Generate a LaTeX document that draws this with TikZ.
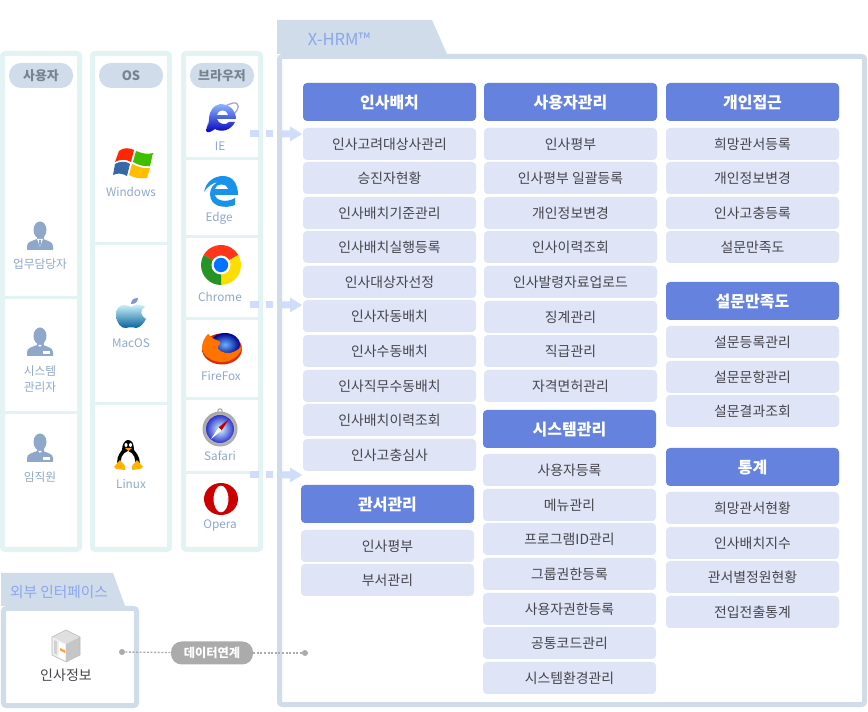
\documentclass[tikz,border=0pt]{standalone}
\usepackage{fontspec}
\setmainfont{Noto Sans CJK KR}
\usetikzlibrary{shapes.geometric}
\definecolor{panelc}{HTML}{E3F2F2}
\definecolor{framec}{HTML}{D0DCEA}
\definecolor{headc}{HTML}{6482DE}
\definecolor{rowc}{HTML}{DFE4F7}
\definecolor{rowt}{HTML}{45454B}
\definecolor{pillt}{HTML}{77838F}
\definecolor{labelc}{HTML}{8FA8CA}
\definecolor{tabt}{HTML}{8AA6EE}
\definecolor{arrowc}{HTML}{CFDDFA}
\definecolor{linkc}{HTML}{ABABAB}
\definecolor{edgec}{HTML}{1A92EA}
\tikzset{
  x=0.75pt,y=-0.75pt,
  headbox/.style={fill=headc,rounded corners=3pt,minimum width=129.75pt,minimum height=28.5pt,inner sep=0pt,text=white,text height=10pt,text depth=.8pt,font=\fontsize{12}{14}\selectfont\bfseries},
  rowbox/.style={fill=rowc,rounded corners=3pt,minimum width=129.75pt,minimum height=24pt,inner sep=0pt,text=rowt,text height=8.7pt,text depth=.7pt,font=\fontsize{10.4}{13}\selectfont},
  pillbox/.style={fill=framec,rounded corners=9pt,minimum width=48pt,minimum height=18.75pt,inner sep=0pt,text=pillt,font=\fontsize{9.7}{11}\selectfont\bfseries},
  iconlabel/.style={text=labelc,inner sep=0pt,align=center,font=\fontsize{8.8}{11.5}\selectfont},
  paneledge/.style={draw=panelc,line width=3.75pt,fill=white,rounded corners=2pt},
  divider/.style={fill=panelc},
  frameedge/.style={draw=framec,line width=3.75pt,fill=white,rounded corners=2pt},
  flowmark/.style={fill=arrowc},
}
\newcommand{\flowarrow}[2]{%
  \fill[flowmark] (250,#2-3.5) rectangle (259,#2+3.5);
  \fill[flowmark] (266,#2-3.5) rectangle (273,#2+3.5);
  \fill[flowmark] (281,#2-3.5) -- (290,#2-3.5) -- (290,#2-7.5) -- (302,#2) -- (290,#2+7.5) -- (290,#2+3.5) -- (281,#2+3.5) -- cycle;
  \coordinate (#1) at (302,#2);}
\newcommand{\person}[3]{%
  \begin{scope}[shift={(#1,#2)}]
    \fill[labelc] (-13,15) -- (-13,11) .. controls (-13,7) and (-8,6) .. (-3,4) -- (3,4) .. controls (8,6) and (13,7) .. (13,11) -- (13,15) -- cycle;
    \fill[labelc] (0,-5) ellipse (6.5 and 8.5);
    \fill[labelc] (-3.5,0) rectangle (3.5,5);
    #3
  \end{scope}}
\begin{document}
\begin{tikzpicture}
\useasboundingbox (0,0) rectangle (868,712);
\fill[white] (0,0) rectangle (868,712);
% left panels
\draw[paneledge] (2.5,53.5) rectangle (79.5,549.5);
\draw[paneledge] (92.5,53.5) rectangle (169.5,549.5);
\draw[paneledge] (183.5,53.5) rectangle (260.5,549.5);
\fill[divider] (5,296) rectangle (77,299);
\fill[divider] (5,411) rectangle (77,414);
\fill[divider] (95,242) rectangle (167,245);
\fill[divider] (95,402) rectangle (167,405);
\foreach \yy in {157,235,317,397,471}{\fill[divider] (186,\yy) rectangle (258,\yy+3);}
\node[pillbox] (puser) at (41,75.5) {사용자};
\node[pillbox] (pos) at (131,75.5) {OS};
\node[pillbox] (pbrowser) at (222,75.5) {브라우저};
% users
\person{40}{235}{\fill[white] (-3,4) -- (3,4) -- (1,9) -- (0,12) -- (-1,9) -- cycle;\fill[labelc] (-1,5) -- (1,5) -- (.8,9) -- (0,12) -- (-.8,9) -- cycle;}
\node[iconlabel] (l1) at (40,264) {업무담당자};
\person{40}{341}{\fill[white] (-2,4) -- (2,4) -- (0,6) -- cycle;\fill[white] (3,10) rectangle (10,13);}
\node[iconlabel] (l2) at (40,379) {시스템\\관리자};
\person{40}{447}{\fill[white] (-2,4) -- (2,4) -- (0,6) -- cycle;\fill[white] (3,10) rectangle (10,13);}
\node[iconlabel] (l3) at (40,477) {임직원};
% OS icons: windows
\fill[red!70!orange] (119,151) .. controls (124,147) and (129,148) .. (134,150) -- (131,162) .. controls (126,159) and (120,159) .. (115,162) -- cycle;
\fill[green!50!olive] (136,151) .. controls (141,153) and (148,155) .. (153,153) -- (150,166) .. controls (145,167) and (138,165) .. (133,162) -- cycle;
\fill[cyan!50!blue!80!black] (115,164) .. controls (120,161) and (126,161) .. (130,164) -- (127,176) .. controls (122,173) and (117,173) .. (113,175) -- cycle;
\fill[orange!50!yellow] (132,164) .. controls (138,167) and (145,169) .. (150,168) -- (147,178) .. controls (141,179) and (134,178) .. (129,175) -- cycle;
\node[iconlabel] (w) at (131,192) {Windows};
% apple
\shade[top color=blue!8!cyan!15,bottom color=blue!40!cyan!60!black] (131,307) .. controls (124,303) and (116,305) .. (116,315) .. controls (116,322) and (121,329) .. (126,328) .. controls (129,327) and (133,327) .. (136,328) .. controls (140,328) and (144,323) .. (146,319) .. controls (141,317) and (139,309) .. (145,307) .. controls (141,303) and (135,304) .. (131,307) -- cycle;
\fill[cyan!30!blue!50] (131,304) .. controls (131,300) and (134,298) .. (138,298) .. controls (138,302) and (135,304) .. (131,304) -- cycle;
\node[iconlabel] (m) at (131,343) {MacOS};
% tux
\fill[black] (122,450) .. controls (122,444) and (125,440) .. (128,440) .. controls (132,440) and (134,444) .. (134,450) .. controls (139,455) and (141,462) .. (139,466) -- (118,466) .. controls (116,460) and (118,455) .. (122,450) -- cycle;
\fill[white] (128,451) .. controls (134,453) and (137,460) .. (134,467) -- (122,467) .. controls (119,460) and (122,453) .. (128,451) -- cycle;
\fill[white] (126,445) ellipse (1.5 and 2) (130.5,445) ellipse (1.5 and 2);
\fill[orange!80!yellow] (125,448) -- (132,448) -- (128.5,451) -- cycle;
\fill[orange!60!yellow] (120,460) -- (114,467) -- (116,469) -- (125,470) -- (125,466) -- cycle;
\fill[orange!60!yellow] (137,460) -- (143,467) -- (140,469) -- (132,470) -- (132,466) -- cycle;
\node[iconlabel] (lx) at (131,484) {Linux};
% IE
\begin{scope}[shift={(222,118)}]
  \draw[blue!25!gray!55,line width=1pt] (-15,14) .. controls (-17,4) and (-2,-12) .. (11,-15) .. controls (18,-16) and (17,-9) .. (13,-5);
  \shade[top color=cyan!35!blue!45,bottom color=blue!75!black] (-2,-14) .. controls (8,-14) and (14,-7) .. (14,1) -- (-5,1) .. controls (-4,6) and (4,8) .. (7,4) -- (13,4) .. controls (9,12) and (0,15) .. (-7,11) .. controls (-10,13) and (-13,15) .. (-15,14) .. controls (-16,12) and (-15,8) .. (-13,5) .. controls (-14,-5) and (-9,-13) .. (-2,-14) -- cycle;
  \fill[white] (-5,-3) .. controls (-4,-9) and (5,-9) .. (6,-3) -- cycle;
\end{scope}
\node[iconlabel] (ie) at (220,146) {IE};
% Edge
\begin{scope}[shift={(221,191)}]
  \fill[edgec] (-17,1) .. controls (-15,-10) and (-6,-15) .. (2,-15) .. controls (12,-15) and (17,-7) .. (17,4) -- (-6,4) .. controls (-5,10) and (6,12) .. (14,7) -- (14,14) .. controls (4,18) and (-11,16) .. (-11,3) .. controls (-11,-3) and (-7,-7) .. (-3,-9) .. controls (-9,-8) and (-14,-4) .. (-17,1) -- cycle;
  \fill[white] (-6,-2) .. controls (-5,-8) and (6,-8) .. (7,-2) -- cycle;
\end{scope}
\node[iconlabel] (edge) at (219,218) {Edge};
% Chrome
\begin{scope}[shift={(221,265)}]
  \fill[red!75!orange!90] (0,0) -- (-17.3,-10) arc (-150:-30:20) -- cycle;
  \fill[yellow!80!orange] (0,0) -- (17.3,-10) arc (-30:90:20) -- cycle;
  \fill[green!50!black!85] (0,0) -- (0,20) arc (90:210:20) -- cycle;
  \fill[white] (0,0) circle (9.5);
  \fill[blue!55!cyan] (0,0) circle (7.2);
\end{scope}
\node[iconlabel] (chrome) at (220,297) {Chrome};
% Firefox
\begin{scope}[shift={(222,348)}]
  \shade[inner color=orange!90!yellow,outer color=red!70!orange!85!black] (0,1) ellipse (20 and 15.5);
  \shade[inner color=cyan!50!blue!60,outer color=blue!55!black] (3,-3.5) ellipse (15 and 11.5);
  \fill[orange!90!red] (-14,-14) .. controls (-10,-10) and (-8,-9) .. (-6,-8) .. controls (-2,-8) and (0,-4) .. (-4,-2) .. controls (-6,2) and (2,6) .. (8,5) .. controls (13,4) and (17,1) .. (20,-2) .. controls (20,6) and (10,14) .. (0,14) .. controls (-12,14) and (-20,6) .. (-20,0) .. controls (-20,-6) and (-17,-11) .. (-14,-14) -- cycle;
\end{scope}
\node[iconlabel] (ff) at (221,376) {FireFox};
% Safari
\begin{scope}[shift={(220,429)}]
  \draw[gray!70,line width=.8pt] (0,-18) circle (2.2);
  \shade[inner color=white,outer color=gray!70] (0,0) circle (17.5);
  \shade[inner color=cyan!20,outer color=blue!60!gray] (0,0) circle (14);
  \fill[red!75!black] (-1.5,-1.5) -- (9,-10) -- (1.5,1.5) -- cycle;
  \fill[white] (-1.5,-1.5) -- (-9,10) -- (1.5,1.5) -- cycle;
\end{scope}
\node[iconlabel] (sf) at (220,456) {Safari};
% Opera
\begin{scope}[shift={(221,499)}]
  \fill[red!80!black,even odd rule] (0,0) ellipse (17 and 16) (0,0) ellipse (7.5 and 13.5);
\end{scope}
\node[iconlabel] (op) at (220,525) {Opera};
% main frame
\fill[framec] (277,20) -- (432,20) -- (447,54) -- (277,54) -- cycle;
\draw[frameedge] (279.5,56.5) rectangle (864.5,704.5);
\node[text=tabt,inner sep=0pt,font=\fontsize{12.4}{14}\selectfont] (xhrm) at (339,39) {X-HRM™};
% arrows
\flowarrow{a1}{134}
\flowarrow{a2}{305}
\flowarrow{a3}{475}
% column A
\node[headbox] (hA) at (389.5,102) {인사배치};
\foreach \t/\yy [count=\i] in {인사고려대상사관리/144,승진자현황/178,인사배치기준관리/213,인사배치실행등록/247,인사대상자선정/282,인사자동배치/316,인사수동배치/351,인사직무수동배치/386,인사배치이력조회/420,인사고충심사/455}
  \node[rowbox] (ra\i) at (389.5,\yy) {\t};
\node[headbox] (hB) at (387.5,504) {관서관리};
\foreach \t/\yy [count=\i] in {인사평부/546,부서관리/580}
  \node[rowbox] (rb\i) at (387.5,\yy) {\t};
% column B
\node[headbox] (hC) at (570.5,102) {사용자관리};
\foreach \t/\yy [count=\i] in {인사평부/144,인사평부 일괄등록/178,개인정보변경/213,인사이력조회/247,인사발령자료업로드/282,징계관리/317,직급관리/351,자격면허관리/386}
  \node[rowbox] (rc\i) at (570.5,\yy) {\t};
\node[headbox] (hD) at (569.5,429) {시스템관리};
\foreach \t/\yy [count=\i] in {사용자등록/470,메뉴관리/505,프로그램ID관리/539,그룹권한등록/574,사용자권한등록/609,공통코드관리/643,시스템환경관리/678}
  \node[rowbox] (rd\i) at (569.5,\yy) {\t};
% column C
\node[headbox] (hE) at (752.5,102) {개인접근};
\foreach \t/\yy [count=\i] in {희망관서등록/144,개인정보변경/178,인사고충등록/213,설문만족도/247}
  \node[rowbox] (re\i) at (752.5,\yy) {\t};
\node[headbox] (hF) at (752.5,301) {설문만족도};
\foreach \t/\yy [count=\i] in {설문등록관리/342,설문문항관리/377,설문결과조회/411}
  \node[rowbox] (rf\i) at (752.5,\yy) {\t};
\node[headbox] (hG) at (752.5,467) {통계};
\foreach \t/\yy [count=\i] in {희망관서현황/508,인사배치지수/543,관서별정원현황/577,전입전출통계/612}
  \node[rowbox] (rg\i) at (752.5,\yy) {\t};
% external
\fill[framec] (1,573) -- (113,573) -- (125,606) -- (1,606) -- cycle;
\draw[frameedge] (3.5,608.5) rectangle (136.5,705.5);
\node[text=tabt,inner sep=0pt,font=\fontsize{11}{13}\selectfont] (ext) at (59,592) {외부 인터페이스};
% server icon
\begin{scope}[line join=round]
  \fill[gray!25] (66,630) -- (80,637) -- (66,644) -- (52,637) -- cycle;
  \fill[gray!12] (52,637) -- (66,644) -- (66,662) -- (52,655) -- cycle;
  \fill[gray!45] (66,644) -- (80,637) -- (80,655) -- (66,662) -- cycle;
  \fill[gray!35] (54,640) -- (57,641.5) -- (57,655) -- (54,653.5) -- cycle;
  \fill[white] (59,642) -- (65,645) -- (65,660) -- (59,657) -- cycle;
  \fill[orange!75] (60,648) -- (65,650.5) -- (65,653) -- (60,650.5) -- cycle;
  \draw[gray!55,line width=.5pt] (66,630) -- (80,637) -- (80,655) -- (66,662) -- (52,655) -- (52,637) -- cycle;
\end{scope}
\node[inner sep=0pt,text=rowt,font=\fontsize{10.5}{13}\selectfont] (hr) at (66,675) {인사정보};
% data link
\node[circle,fill=linkc,minimum size=4.5pt,inner sep=0pt] (da) at (122,652) {};
\node[circle,fill=linkc,minimum size=4.5pt,inner sep=0pt] (db) at (305,653) {};
\node[fill=linkc,rounded corners=8pt,minimum width=61.5pt,minimum height=17.25pt,inner sep=0pt,text=white,font=\fontsize{9.2}{10}\selectfont\bfseries] (link) at (212,653) {데이터연계};
\draw[linkc,line width=1pt,dash pattern=on 1.5pt off 1.2pt] (da) -- (link);
\draw[linkc,line width=1pt,dash pattern=on 1.5pt off 1.2pt] (link) -- (db);
\end{tikzpicture}
\end{document}
